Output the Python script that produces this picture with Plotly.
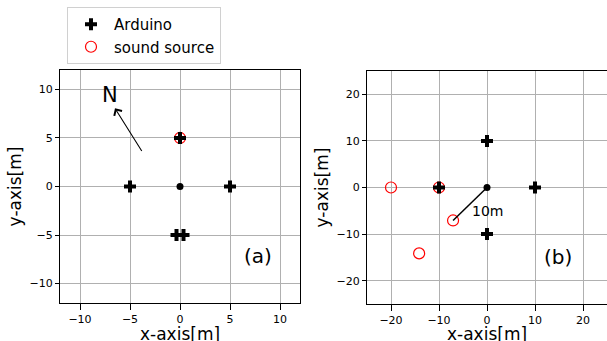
import plotly.graph_objects as go

# Panel (a)
a_ard_x = [0, -5, 5, -0.35, 0.35]
a_ard_y = [5, 0, 0, -5, -5]
a_src_x = [0]
a_src_y = [5]
# Panel (b)
b_ard_x = [0, -10, 10, 0]
b_ard_y = [10, 0, 0, -10]
b_src_x = [-20, -10, -7.07, -14.14]
b_src_y = [0, 0, -7.07, -14.14]
center = [0, 0]
a_ticks = [-10, -5, 0, 5, 10]
b_ticks = [-20, -10, 0, 10, 20]

FONT = "DejaVu Sans"
fig = go.Figure()

src_marker = dict(symbol="circle-open", size=11, color="red", line=dict(width=1.2))
ard_marker = dict(symbol="cross", size=10, color="black")
dot_marker = dict(symbol="circle", size=7, color="black")

# sound sources first (drawn under arduino crosses)
fig.add_trace(go.Scatter(x=a_src_x, y=a_src_y, mode="markers", name="sound source",
                         legendrank=2, marker=src_marker, xaxis="x", yaxis="y"))
fig.add_trace(go.Scatter(x=b_src_x, y=b_src_y, mode="markers", showlegend=False,
                         marker=src_marker, xaxis="x2", yaxis="y2"))
# radius line in (b)
fig.add_trace(go.Scatter(x=[center[0], b_src_x[2]], y=[center[1], b_src_y[2]], mode="lines",
                         showlegend=False, line=dict(color="black", width=1.5),
                         xaxis="x2", yaxis="y2"))
fig.add_trace(go.Scatter(x=a_ard_x, y=a_ard_y, mode="markers", name="Arduino",
                         legendrank=1, marker=ard_marker, xaxis="x", yaxis="y"))
fig.add_trace(go.Scatter(x=b_ard_x, y=b_ard_y, mode="markers", showlegend=False,
                         marker=ard_marker, xaxis="x2", yaxis="y2"))
# center dots
fig.add_trace(go.Scatter(x=[center[0]], y=[center[1]], mode="markers", showlegend=False,
                         marker=dot_marker, xaxis="x", yaxis="y"))
fig.add_trace(go.Scatter(x=[center[0]], y=[center[1]], mode="markers", showlegend=False,
                         marker=dot_marker, xaxis="x2", yaxis="y2"))

axis_common = dict(showgrid=True, gridcolor="#b0b0b0", gridwidth=1, zeroline=False,
                   showline=True, linecolor="black", linewidth=1, mirror=True,
                   ticks="outside", tickcolor="black", automargin=False,
                   tickfont=dict(family=FONT, size=11, color="black"))

xtitle_y = (341 - 334) / 341

fig.update_layout(
    width=607, height=341,
    margin=dict(l=0, r=0, t=0, b=0),
    paper_bgcolor="white", plot_bgcolor="white",
    font=dict(family=FONT, color="black"),
    xaxis=dict(domain=[60/607, 300/607], range=[-12, 12], tickvals=a_ticks, anchor="y", ticklen=6,
               **axis_common),
    yaxis=dict(domain=[38/341, 271/341], range=[-12, 12], tickvals=a_ticks, anchor="x", ticklen=4,
               title=dict(text="y-axis[m]", font=dict(size=17), standoff=3), **axis_common),
    xaxis2=dict(domain=[367/607, 1.0], range=[-25, 25], tickvals=b_ticks, anchor="y2", ticklen=6,
                **axis_common),
    yaxis2=dict(domain=[37/341, 270/341], range=[-25, 25], tickvals=b_ticks, anchor="x2", ticklen=4,
                title=dict(text="y-axis[m]", font=dict(size=17), standoff=3), **axis_common),
    legend=dict(x=67/607, y=1-7/341, xanchor="left", yanchor="top",
                bordercolor="#d0d0d0", borderwidth=1, bgcolor="white",
                font=dict(family=FONT, size=15), itemwidth=36, tracegroupgap=2),
    showlegend=True,
    annotations=[
        dict(x=0.5, y=xtitle_y, xref="x domain", yref="paper", text="x-axis[m]", showarrow=False,
             yanchor="middle", font=dict(size=17, family=FONT)),
        dict(x=0.5, y=xtitle_y, xref="x2 domain", yref="paper", text="x-axis[m]", showarrow=False,
             yanchor="middle", font=dict(size=17, family=FONT)),
        dict(x=-6.5, y=8.05, ax=-3.73, ay=3.5, xref="x", yref="y", axref="x", ayref="y",
             showarrow=True, arrowhead=4, arrowsize=1.6, arrowwidth=1.1, arrowcolor="black", text=""),
        dict(x=-7, y=9.4, xref="x", yref="y", text="N", showarrow=False,
             font=dict(size=21, family=FONT)),
        dict(x=7.8, y=-7.2, xref="x", yref="y", text="(a)", showarrow=False,
             font=dict(size=20, family=FONT)),
        dict(x=14.7, y=-15, xref="x2", yref="y2", text="(b)", showarrow=False,
             font=dict(size=20, family=FONT)),
        dict(x=0, y=-5, xref="x2", yref="y2", text="10m", showarrow=False,
             font=dict(size=14, family=FONT)),
    ],
)

fig.write_html("out.html", config={"displayModeBar": False},
               post_script="document.body.style.margin='0';document.body.style.overflow='hidden';")
